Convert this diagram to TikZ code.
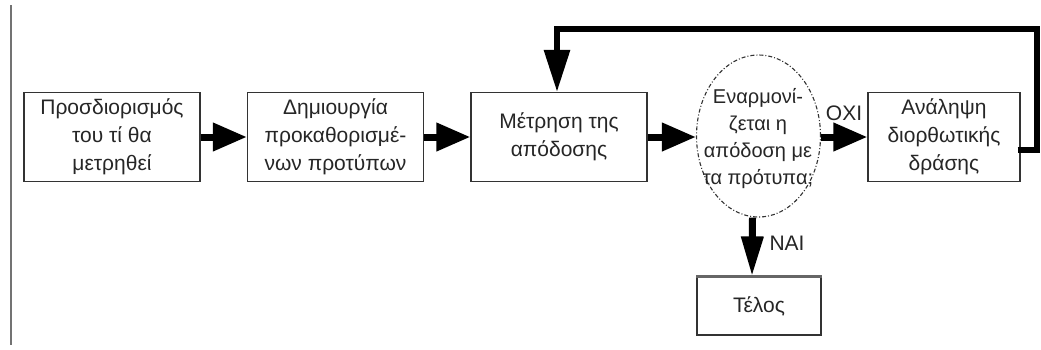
\documentclass[tikz,border=0pt]{standalone}
\usepackage{fontspec}
\setmainfont{Liberation Sans}
\usetikzlibrary{arrows.meta,shapes.geometric}
\begin{document}
\begin{tikzpicture}[x=1pt,y=-1pt,
  txt/.style={font=\fontsize{21}{28}\selectfont, align=center, text=black!85},
  box/.style={txt, draw=black!80, line width=1.2pt, minimum height=89pt, inner sep=0pt},
  decision/.style={ellipse, draw=black!80, line width=1.1pt, dash pattern=on 4pt off 2pt on 1pt off 2pt,
    minimum width=124pt, minimum height=162pt, inner sep=0pt},
  flow/.style={line width=7pt, -{Triangle[length=34pt,width=27pt]}},
  down/.style={line width=7pt, -{Triangle[length=40pt,width=21pt]}},
  loop/.style={line width=6pt, -{Triangle[length=42pt,width=25pt]}},
  lbl/.style={font=\fontsize{21}{22}\selectfont, text=black!85}]
\useasboundingbox (0,0) rectangle (1041,349);
\fill[white] (0,0) rectangle (1041,349);

% margin rule on the left
\draw[black!55, line width=2pt] (11,5) -- (11,345);

% process steps
\node[box, minimum width=176pt] (def)  at (112,137)   {Προσδιορισμός\\του τί θα\\μετρηθεί};
\node[box, minimum width=176pt] (std)  at (335.5,137) {Δημιουργία\\προκαθορισμέ-\\νων προτύπων};
\node[box, minimum width=176pt] (meas) at (559,137)   {Μέτρηση της\\απόδοσης};
\node[decision] (chk) at (758.5,136) {};
\node[txt, font=\fontsize{20}{27}\selectfont] (chkText) at (758,139) {Εναρμονί-\\ζεται η\\απόδοση με\\τα πρότυπα;};
\node[box, minimum width=152pt] (act)  at (944,137)   {Ανάληψη\\διορθωτικής\\δράσης};
\node[box, minimum width=124pt, minimum height=58pt] (end) at (759,306) {Τέλος};
\draw[black!60, line width=2.5pt] (end.north west) -- (end.north east);

% main flow
\draw[flow] (def.east) -- (std.west);
\draw[flow] (std.east) -- (meas.west);
\draw[flow] (meas.east) -- (meas.east -| chk.west);
\draw[flow] (chk.east |- act.west) -- (act.west);
\draw[down] ([xshift=-6pt]chk.south) -- ([xshift=-7pt]end.north);

% branch labels
\node[lbl] (no)  at (844,113) {ΟΧΙ};
\node[lbl] (yes) at (787,243) {ΝΑΙ};

% feedback loop back to the measurement step
\coordinate (loopTop) at (1037,29);
\draw[loop] ([yshift=-13pt, xshift=-3pt]act.east) -| (loopTop) -| ([xshift=-2pt]meas.north);
\end{tikzpicture}
\end{document}
